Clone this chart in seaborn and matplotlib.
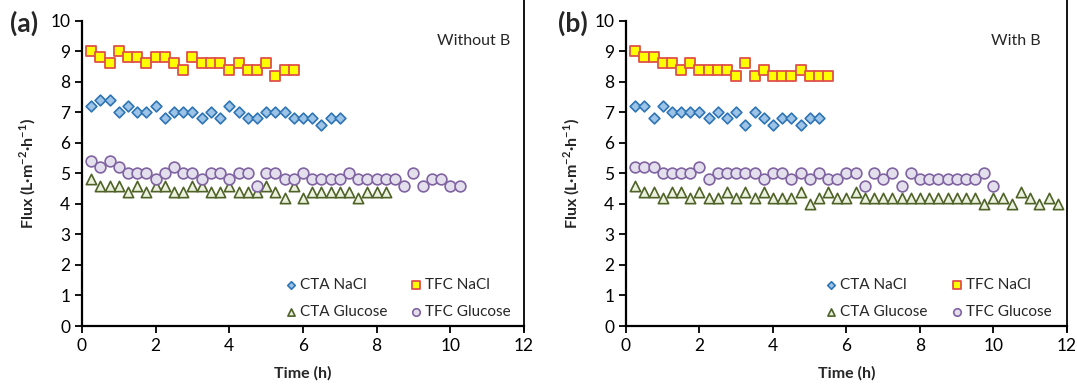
import matplotlib
matplotlib.use("Agg")
import matplotlib.pyplot as plt
from matplotlib.lines import Line2D
import seaborn as sns
import pandas as pd
import numpy as np

# sampling interval (h)
dt = 0.25

# panel (a) - without B
a_cta_nacl = [7.2, 7.4, 7.4, 7.0, 7.2, 7.0, 7.0, 7.2, 6.8, 7.0, 7.0, 7.0, 6.8, 7.0,
              6.8, 7.2, 7.0, 6.8, 6.8, 7.0, 7.0, 7.0, 6.8, 6.8, 6.8, 6.6, 6.8, 6.8]
a_tfc_nacl = [9.0, 8.8, 8.6, 9.0, 8.8, 8.8, 8.6, 8.8, 8.8, 8.6, 8.4, 8.8, 8.6, 8.6,
              8.6, 8.4, 8.6, 8.4, 8.4, 8.6, 8.2, 8.4, 8.4]
a_cta_glu = [4.8, 4.6, 4.6, 4.6, 4.4, 4.6, 4.4, 4.6, 4.6, 4.4, 4.4, 4.6, 4.6, 4.4,
             4.4, 4.6, 4.4, 4.4, 4.4, 4.6, 4.4, 4.2, 4.6, 4.2, 4.4, 4.4, 4.4, 4.4,
             4.4, 4.2, 4.4, 4.4, 4.4]
a_tfc_glu = [5.4, 5.2, 5.4, 5.2, 5.0, 5.0, 5.0, 4.8, 5.0, 5.2, 5.0, 5.0, 4.8, 5.0,
             5.0, 4.8, 5.0, 5.0, 4.6, 5.0, 5.0, 4.8, 4.8, 5.0, 4.8, 4.8, 4.8, 4.8,
             5.0, 4.8, 4.8, 4.8, 4.8, 4.8, 4.6, 5.0, 4.6, 4.8, 4.8, 4.6, 4.6]

# panel (b) - with B
b_cta_nacl = [7.2, 7.2, 6.8, 7.2, 7.0, 7.0, 7.0, 7.0, 6.8, 7.0, 6.8, 7.0, 6.6, 7.0,
              6.8, 6.6, 6.8, 6.8, 6.6, 6.8, 6.8]
b_tfc_nacl = [9.0, 8.8, 8.8, 8.6, 8.6, 8.4, 8.6, 8.4, 8.4, 8.4, 8.4, 8.2, 8.6, 8.2,
              8.4, 8.2, 8.2, 8.2, 8.4, 8.2, 8.2, 8.2]
b_cta_glu = [4.6, 4.4, 4.4, 4.2, 4.4, 4.4, 4.2, 4.4, 4.2, 4.2, 4.4, 4.2, 4.4, 4.2,
             4.4, 4.2, 4.2, 4.2, 4.4, 4.0, 4.2, 4.4, 4.2, 4.2, 4.4, 4.2, 4.2, 4.2,
             4.2, 4.2, 4.2, 4.2, 4.2, 4.2, 4.2, 4.2, 4.2, 4.2, 4.0, 4.2, 4.2, 4.0,
             4.4, 4.2, 4.0, 4.2, 4.0]
b_tfc_glu = [5.2, 5.2, 5.2, 5.0, 5.0, 5.0, 5.0, 5.2, 4.8, 5.0, 5.0, 5.0, 5.0, 5.0,
             4.8, 5.0, 5.0, 4.8, 5.0, 4.8, 5.0, 4.8, 4.8, 5.0, 5.0, 4.6, 5.0, 4.8,
             5.0, 4.6, 5.0, 4.8, 4.8, 4.8, 4.8, 4.8, 4.8, 4.8, 5.0, 4.6]

series_names = ["CTA NaCl", "CTA Glucose", "TFC NaCl", "TFC Glucose"]
styles = {
    "CTA NaCl": dict(marker="D", s=30, color="#9DC3E6", edgecolor="#2E75B6", linewidth=1.2),
    "CTA Glucose": dict(marker="^", s=55, color="#EBF1DE", edgecolor="#4F6228", linewidth=1.2),
    "TFC NaCl": dict(marker="s", s=60, color="#FFFF00", edgecolor="#E0504A", linewidth=1.3),
    "TFC Glucose": dict(marker="o", s=60, color="#E4DFEC", edgecolor="#8064A2", linewidth=1.2),
}


def to_frame(cta_nacl, cta_glu, tfc_nacl, tfc_glu):
    rows = []
    for name, vals in zip(series_names, [cta_nacl, cta_glu, tfc_nacl, tfc_glu]):
        for i, v in enumerate(vals):
            rows.append({"time": (i + 1) * dt, "flux": v, "series": name})
    return pd.DataFrame(rows)


sns.set_style("ticks")
plt.rcParams['font.family'] = ['Lato', 'DejaVu Sans']
plt.rcParams['mathtext.fontset'] = 'custom'
plt.rcParams['mathtext.rm'] = 'Lato'
plt.rcParams['mathtext.bf'] = 'Lato:bold'

fig = plt.figure(figsize=(10.77, 3.84), dpi=100)
ax_a = fig.add_axes([0.0761, 0.151, 0.4104, 0.795])
ax_b = fig.add_axes([0.5812, 0.151, 0.4095, 0.795])

panels = [
    (ax_a, to_frame(a_cta_nacl, a_cta_glu, a_tfc_nacl, a_tfc_glu), "(a)", "Without B", 0.968, 0.455, -0.13),
    (ax_b, to_frame(b_cta_nacl, b_cta_glu, b_tfc_nacl, b_tfc_glu), "(b)", "With B", 0.94, 0.448, -0.12),
]

for ax, df, tag, note, note_x, leg_x, tag_x in panels:
    for name in series_names:
        sns.scatterplot(data=df[df["series"] == name], x="time", y="flux",
                        ax=ax, label=name, zorder=3, **styles[name])
    ax.set_xlim(0, 12)
    ax.set_ylim(0, 10)
    ax.set_xticks(np.arange(0, 13, 2))
    ax.set_yticks(np.arange(0, 11, 1))
    ax.tick_params(direction="out", length=5, width=1.3, labelsize=12.5, colors="black")
    for side in ["left", "bottom"]:
        ax.spines[side].set_linewidth(1.6)
        ax.spines[side].set_color("black")
    ax.spines["top"].set_visible(False)
    ax.spines["right"].set_visible(False)
    ax.set_xlabel("Time (h)", fontsize=11.5, fontweight="bold", labelpad=9)
    ax.set_ylabel("Flux (L·m$^{\\mathbf{-2}}$·h$^{\\mathbf{-1}}$)", fontsize=11.5,
                  fontweight="bold", labelpad=9)
    ax.text(note_x, 0.935, note, transform=ax.transAxes, ha="right", va="center", fontsize=11.5)
    ax.text(tag_x, 0.99, tag, transform=ax.transAxes, ha="center", va="center",
            fontsize=19, fontweight="bold")
    ax.legend(ncol=2, loc="center left", bbox_to_anchor=(leg_x, 0.09), frameon=False,
              fontsize=11, markerscale=0.7, handlelength=1.0, handletextpad=0.1,
              columnspacing=1.4, labelspacing=0.9, borderaxespad=0, borderpad=0)

    # chart border line on the right side, down to the x axis
    pos = ax.get_position()
    fig.add_artist(Line2D([pos.x1, pos.x1], [pos.y0 - 0.013, 1.0], transform=fig.transFigure,
                          color="black", linewidth=1.3))

fig.savefig("out.png", dpi=100)
